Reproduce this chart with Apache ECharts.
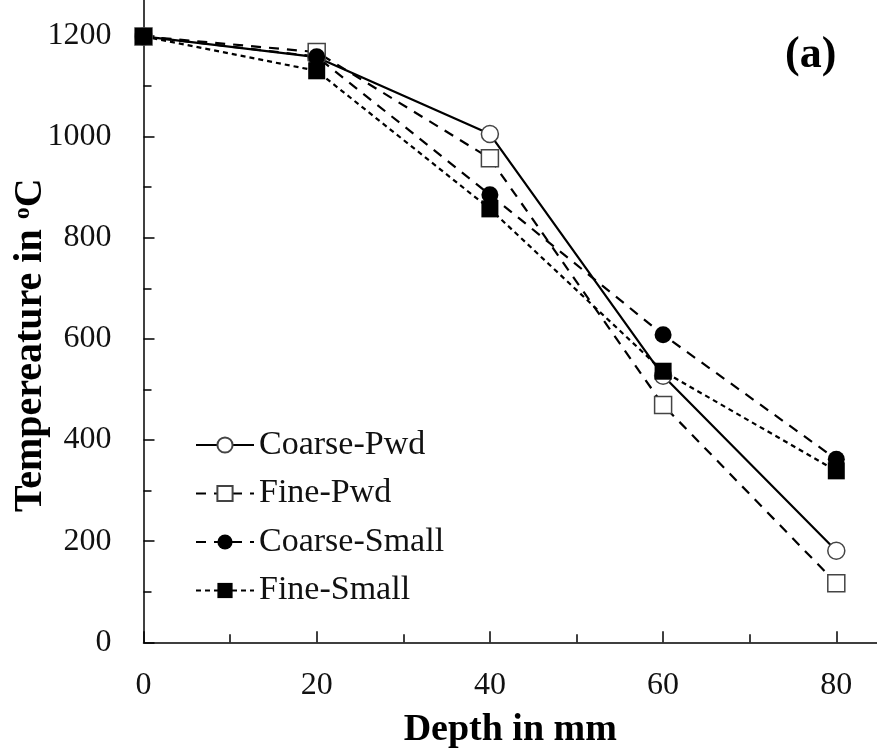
<!DOCTYPE html>
<html>
<head>
<meta charset="utf-8">
<script src="https://cdn.jsdelivr.net/npm/echarts@6/dist/echarts.min.js"></script>
<style>
  html, body { margin: 0; padding: 0; background: #fff; }
  #chart { width: 877px; height: 754px; }
</style>
</head>
<body>
<div id="chart"></div>
<script>
// Depth positions (mm) of the thermocouples
const depths = [0, 20, 40, 60, 80];

// Measured temperatures (°C) per specimen type
const coarsePwd   = [1198, 1157, 1005, 527, 181];
const finePwd     = [1198, 1167, 957, 469, 117];
const coarseSmall = [1198, 1158, 885, 608, 362];
const fineSmall   = [1198, 1130, 857, 536, 339];

// Axis tick positions
const xMajorTicks = [0, 20, 40, 60, 80];
const xMinorTicks = [10, 30, 50, 70];
const yMajorTicks = [0, 200, 400, 600, 800, 1000, 1200];
const yMinorTicks = [100, 300, 500, 700, 900, 1100];

const serif = '"Liberation Serif", "Times New Roman", serif';
const X_MIN = 0, X_MAX = 84.7;
const Y_MIN = 0, Y_MAX = 1270;

const pairs = vals => depths.map((d, i) => [d, vals[i]]);
const plain = v => String(v);

function lineSeries(name, vals, symbol, filled, dash) {
  return {
    name: name,
    type: 'line',
    data: pairs(vals),
    xAxisIndex: 0,
    yAxisIndex: 0,
    symbol: symbol,
    symbolSize: 17,
    showSymbol: true,
    lineStyle: { color: '#000', width: 2.2, type: dash },
    itemStyle: filled
      ? { color: '#000', borderColor: '#000', borderWidth: 0 }
      : { color: '#fff', borderColor: '#444', borderWidth: 1.5 },
    emphasis: { disabled: true },
    animation: false
  };
}

const tickAxisCommon = {
  type: 'value',
  axisLine: { show: false },
  axisLabel: { show: false },
  splitLine: { show: false }
};

const option = {
  backgroundColor: '#fff',
  animation: false,
  title: {
    text: '(a)',
    left: 780,
    top: 29,
    textStyle: { fontFamily: serif, fontWeight: 'bold', fontSize: 44, color: '#000' }
  },
  legend: {
    orient: 'vertical',
    left: 190,
    top: 423,
    itemWidth: 58,
    itemHeight: 19,
    itemGap: 14.5,
    data: ['Coarse-Pwd', 'Fine-Pwd', 'Coarse-Small', 'Fine-Small'],
    textStyle: { fontFamily: serif, fontSize: 34, color: '#111' }
  },
  grid: {
    left: 143.5,
    right: 0,
    top: 0,
    bottom: 111.7,
    containLabel: false,
    outerBoundsMode: 'none'
  },
  xAxis: [
    {
      type: 'value',
      min: X_MIN,
      max: X_MAX,
      position: 'bottom',
      name: 'Depth in mm',
      nameLocation: 'middle',
      nameGap: 69,
      nameMoveOverlap: false,
      nameTextStyle: { fontFamily: serif, fontWeight: 'bold', fontSize: 38, color: '#000' },
      axisLine: { show: true, onZero: false, lineStyle: { color: '#000', width: 1.5 } },
      axisTick: { show: true, inside: true, length: 11, customValues: xMajorTicks, lineStyle: { color: '#000', width: 1.5 } },
      axisLabel: { show: true, customValues: xMajorTicks, formatter: plain, margin: 27, fontFamily: serif, fontSize: 32, color: '#111' },
      splitLine: { show: false }
    },
    Object.assign({}, tickAxisCommon, {
      min: X_MIN,
      max: X_MAX,
      position: 'bottom',
      axisTick: { show: true, inside: true, length: 8, customValues: xMinorTicks, lineStyle: { color: '#000', width: 1.5 } }
    })
  ],
  yAxis: [
    {
      type: 'value',
      min: Y_MIN,
      max: Y_MAX,
      position: 'left',
      name: 'Tempereature in {sup|o}C',
      nameLocation: 'middle',
      nameGap: 93,
      nameRotate: 90,
      nameMoveOverlap: false,
      nameTextStyle: {
        fontFamily: serif, fontWeight: 'bold', fontSize: 40, color: '#000',
        padding: [0, 48, 0, 0],
        rich: {
          sup: { fontFamily: serif, fontWeight: 'bold', fontSize: 24, color: '#000', verticalAlign: 'top', padding: [0, 0, 16, 0] }
        }
      },
      axisLine: { show: true, onZero: false, lineStyle: { color: '#000', width: 1.5 } },
      axisTick: { show: true, inside: true, length: 11, customValues: yMajorTicks, lineStyle: { color: '#000', width: 1.5 } },
      axisLabel: { show: true, customValues: yMajorTicks, formatter: plain, margin: 32, fontFamily: serif, fontSize: 32, color: '#111' },
      splitLine: { show: false }
    },
    Object.assign({}, tickAxisCommon, {
      min: Y_MIN,
      max: Y_MAX,
      position: 'left',
      axisTick: { show: true, inside: true, length: 8, customValues: yMinorTicks, lineStyle: { color: '#000', width: 1.5 } }
    })
  ],
  series: [
    lineSeries('Coarse-Pwd', coarsePwd, 'circle', false, 'solid'),
    lineSeries('Fine-Pwd', finePwd, 'rect', false, [10, 8]),
    lineSeries('Coarse-Small', coarseSmall, 'circle', true, [10, 8]),
    lineSeries('Fine-Small', fineSmall, 'rect', true, [5, 4])
  ]
};

const chart = echarts.init(document.getElementById('chart'), null, { renderer: 'canvas' });
chart.setOption(option);
</script>
</body>
</html>
